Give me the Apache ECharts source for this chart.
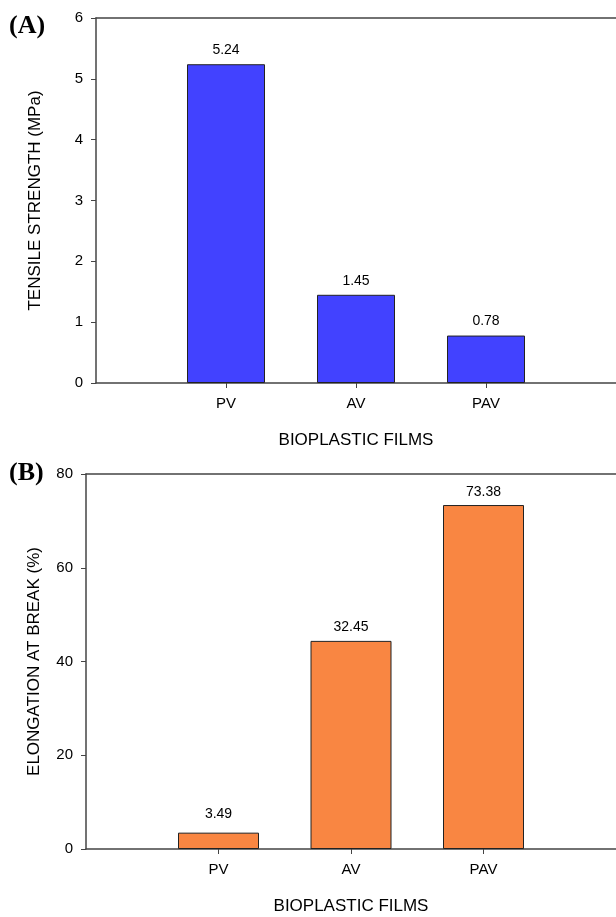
<!DOCTYPE html>
<html>
<head>
<meta charset="utf-8">
<script src="https://cdn.jsdelivr.net/npm/echarts@6/dist/echarts.min.js"></script>
<style>
html,body{margin:0;padding:0;background:#fff;}
#chart{width:616px;height:917px;}
</style>
</head>
<body>
<div id="chart"></div>
<script>
var categories = ['PV', 'AV', 'PAV'];
var tensileValues = [5.24, 1.45, 0.78];
var tensileLabels = ['5.24', '1.45', '0.78'];
var elongationValues = [3.49, 44.4, 73.38];
var elongationLabels = ['3.49', '32.45', '73.38'];
var tensileTicks = [0, 1, 2, 3, 4, 5, 6];
var elongationTicks = [0, 20, 40, 60, 80];

var paddedCats = [''].concat(categories).concat(['']);
function pad(arr, labels, distances) {
  var out = [null];
  arr.forEach(function (v, i) {
    out.push({
      value: v,
      label: { formatter: labels[i], distance: distances ? distances[i] : 7 }
    });
  });
  out.push(null);
  return out;
}

var FONT = '"Liberation Sans", Arial, sans-serif';
var AX = '#444';
var TXT = '#000';

function xAxisCfg(gridIndex) {
  return {
    type: 'category', gridIndex: gridIndex, data: paddedCats, boundaryGap: false,
    name: 'BIOPLASTIC FILMS', nameLocation: 'middle', nameGap: 49,
    nameTextStyle: { fontFamily: FONT, fontSize: 17, color: TXT },
    axisLine: { lineStyle: { color: AX, width: 1.5 } },
    axisTick: { length: 5, lineStyle: { color: AX, width: 1 },
      interval: function (i) { return i > 0 && i < paddedCats.length - 1; } },
    axisLabel: { fontFamily: FONT, fontSize: 15, color: TXT, margin: 13,
      interval: function (i) { return i > 0 && i < paddedCats.length - 1; } },
    splitLine: { show: false }
  };
}
function topAxisCfg(gridIndex) {
  return {
    type: 'category', gridIndex: gridIndex, position: 'top', data: paddedCats, boundaryGap: false,
    axisLine: { show: true, lineStyle: { color: AX, width: 1.5 } },
    axisTick: { show: false }, axisLabel: { show: false }, splitLine: { show: false }
  };
}
function yAxisCfg(gridIndex, name, ticks, nameGap) {
  return {
    type: 'value', gridIndex: gridIndex, min: ticks[0], max: ticks[ticks.length - 1],
    interval: ticks[1] - ticks[0],
    name: name, nameLocation: 'middle', nameGap: nameGap, nameRotate: 90,
    nameTextStyle: { fontFamily: FONT, fontSize: 17, color: TXT },
    axisLine: { show: true, lineStyle: { color: AX, width: 1.5 } },
    axisTick: { show: true, length: 5, lineStyle: { color: AX, width: 1 } },
    axisLabel: { fontFamily: FONT, fontSize: 15, color: TXT, margin: 13 },
    splitLine: { show: false }
  };
}

var chart = echarts.init(document.getElementById('chart'), null, { renderer: 'canvas' });
chart.setOption({
  backgroundColor: '#fff',
  animation: false,
  grid: [
    { left: 96, top: 18, width: 523, height: 365 },
    { left: 86, top: 474, width: 536, height: 375 }
  ],
  xAxis: [xAxisCfg(0), xAxisCfg(1), topAxisCfg(0), topAxisCfg(1)],
  yAxis: [
    yAxisCfg(0, 'TENSILE STRENGTH (MPa)', tensileTicks, 52),
    yAxisCfg(1, 'ELONGATION AT BREAK (%)', elongationTicks, 43)
  ],
  graphic: [
    { type: 'text', left: 9, top: 13, style: { text: '(A)', font: 'bold 26px "Liberation Serif", "Times New Roman", serif', fill: TXT } },
    { type: 'text', left: 9, top: 460, style: { text: '(B)', font: 'bold 26px "Liberation Serif", "Times New Roman", serif', fill: TXT } }
  ],
  series: [
    {
      type: 'bar', xAxisIndex: 0, yAxisIndex: 0, barWidth: 78,
      data: pad(tensileValues, tensileLabels),
      itemStyle: { color: '#4242FF', borderColor: '#222', borderWidth: 1 },
      label: { show: true, position: 'top', fontFamily: FONT, fontSize: 14, color: TXT }
    },
    {
      type: 'bar', xAxisIndex: 1, yAxisIndex: 1, barWidth: 81,
      data: pad(elongationValues, elongationLabels, [12, 7, 6]),
      itemStyle: { color: '#F98642', borderColor: '#222', borderWidth: 1 },
      label: { show: true, position: 'top', fontFamily: FONT, fontSize: 14, color: TXT }
    }
  ]
});
</script>
</body>
</html>
